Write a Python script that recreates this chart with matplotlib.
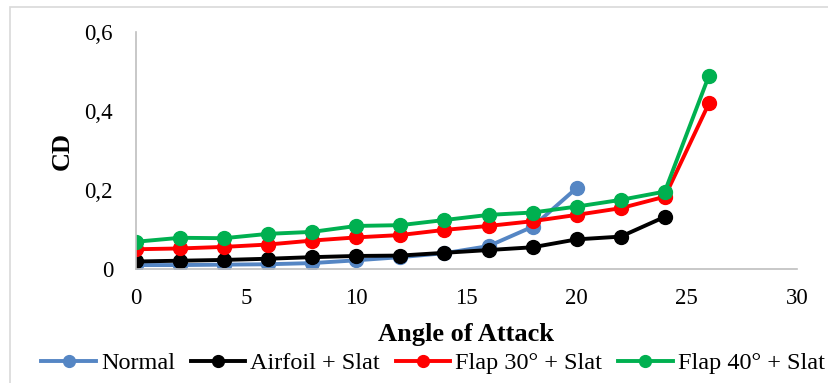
import matplotlib
matplotlib.use("Agg")
import matplotlib.pyplot as plt
from matplotlib.patches import Rectangle
from matplotlib.ticker import FuncFormatter

plt.rcParams['font.family'] = ['Liberation Serif', 'DejaVu Serif']

angle_normal = [0, 2, 4, 6, 8, 10, 12, 14, 16, 18, 20]
cd_normal = [0.010, 0.010, 0.011, 0.012, 0.015, 0.022, 0.030, 0.040, 0.058, 0.107, 0.205]

angle_slat = [0, 2, 4, 6, 8, 10, 12, 14, 16, 18, 20, 22, 24]
cd_slat = [0.019, 0.021, 0.023, 0.026, 0.030, 0.033, 0.034, 0.041, 0.048, 0.055, 0.075, 0.082, 0.132]

angle_flap = [0, 2, 4, 6, 8, 10, 12, 14, 16, 18, 20, 22, 24, 26]
cd_flap30 = [0.050, 0.052, 0.056, 0.062, 0.072, 0.080, 0.086, 0.099, 0.109, 0.121, 0.137, 0.154, 0.183, 0.419]
cd_flap40 = [0.069, 0.079, 0.078, 0.089, 0.094, 0.109, 0.111, 0.124, 0.137, 0.143, 0.158, 0.175, 0.196, 0.489]

series = [
    ("Normal", angle_normal, cd_normal, "#5586c4"),
    ("Airfoil + Slat", angle_slat, cd_slat, "#000000"),
    ("Flap 30° + Slat", angle_flap, cd_flap30, "#ff0000"),
    ("Flap 40° + Slat", angle_flap, cd_flap40, "#00b050"),
]

W, H = 829, 383
fig = plt.figure(figsize=(W/100, H/100), dpi=100)
ax = fig.add_axes([136/W, 1-269/H, (797-136)/W, (269-32)/H])

for name, x, y, c in series:
    ax.plot(x, y, color=c, lw=2.8, marker='o', markersize=10, label=name)

ax.set_xlim(0, 30)
ax.set_ylim(0, 0.6)
ax.set_xticks([0, 5, 10, 15, 20, 25, 30])
ax.set_yticks([0, 0.2, 0.4, 0.6])
ax.yaxis.set_major_formatter(FuncFormatter(lambda v, p: ('%g' % round(v, 2)).replace('.', ',')))
for s in ['top', 'right']:
    ax.spines[s].set_visible(False)
for s in ['left', 'bottom']:
    ax.spines[s].set_color('#bfbfbf')
    ax.spines[s].set_linewidth(1.2)
ax.tick_params(length=0, labelsize=16.5)
ax.tick_params(axis='x', pad=14)
ax.tick_params(axis='y', pad=16.5)
ax.set_xlabel("Angle of Attack", fontsize=19, fontweight='bold', labelpad=10)
ax.set_ylabel("CD", fontsize=19, fontweight='bold', labelpad=8)

fig.legend(loc='center', bbox_to_anchor=(433/W, 1-363/H), ncol=4, frameon=False,
           fontsize=17.5, handlelength=2.25, columnspacing=0.65, handletextpad=0.2,
           markerscale=0.85, borderpad=0, borderaxespad=0)

fig.patches.append(Rectangle((10/W, -0.05), 1.2, 1.05 - 7/H, transform=fig.transFigure,
                             fill=False, edgecolor='#d9d9d9', lw=1.2))

fig.savefig("out.png", dpi=100)
